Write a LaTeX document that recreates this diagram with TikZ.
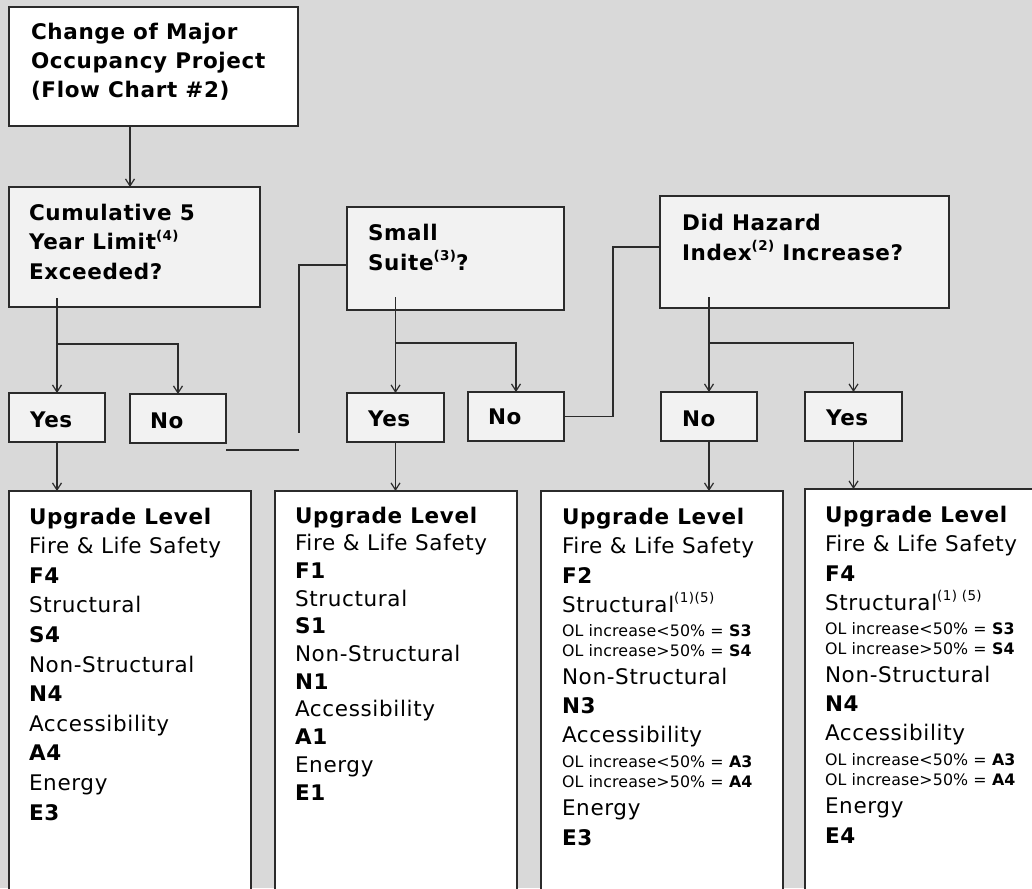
\documentclass[tikz,border=0pt]{standalone}
\usepackage{fontspec}
\setmainfont{DejaVu Sans}[LetterSpace=3]
\newfontfamily\smallfam{DejaVu Sans}[LetterSpace=1]
\usetikzlibrary{arrows.meta,calc}
\definecolor{bgc}{HTML}{D9D9D9}
\definecolor{qfill}{HTML}{F2F2F2}
\definecolor{linec}{HTML}{2B2B2B}
\newcommand\sups[1]{\raisebox{0.42em}{\fontsize{13.5}{13.5}\selectfont #1}}
\newcommand\lines[1]{\begin{tabular}[t]{@{}l@{}}#1\end{tabular}}
\newcommand\olfont{\smallfam\fontsize{15.8}{18}\selectfont}
\tikzset{
  box/.style={draw=linec, line width=1.3pt, inner sep=0pt, outer sep=0pt, anchor=north west},
  qbox/.style={box, fill=qfill},
  wbox/.style={box, fill=white},
  txt/.style={anchor=base west, inner sep=0pt, outer sep=0pt, font=\fontsize{21.5}{29.6}\selectfont},
  btxt/.style={anchor=base west, inner sep=0pt, outer sep=0pt, font=\fontsize{21.5}{#1}\selectfont\bfseries},
  conn/.style={draw=linec, line width=1.2pt},
  arr/.style={conn, -{Straight Barb[length=7pt,width=9pt]}}
}
\begin{document}
\begin{tikzpicture}[x=1pt,y=-1pt]
\path[use as bounding box] (0,0) rectangle (1032,888);
\clip (0,0) rectangle (1032,888);
\fill[bgc] (0,0) rectangle (1032,888);

% boxes
\node[wbox, minimum width=289pt, minimum height=119pt] (top) at (9,7) {};
\node[qbox, minimum width=251pt, minimum height=120pt] (cum) at (9,187) {};
\node[qbox, minimum width=217pt, minimum height=103pt] (small) at (347,207) {};
\node[qbox, minimum width=289pt, minimum height=112pt] (haz) at (660,196) {};

\node[qbox, minimum width=96pt, minimum height=49pt] (yes1) at (9,393) {};
\node[qbox, minimum width=96pt, minimum height=49pt] (no1) at (130,394) {};
\node[qbox, minimum width=97pt, minimum height=49pt] (yes2) at (347,393) {};
\node[qbox, minimum width=96pt, minimum height=49pt] (no2) at (468,392) {};
\node[qbox, minimum width=96pt, minimum height=49pt] (no3) at (661,392) {};
\node[qbox, minimum width=97pt, minimum height=49pt] (yes3) at (805,392) {};

\node[wbox, minimum width=242pt, minimum height=420pt] (bot1) at (9,491) {};
\node[wbox, minimum width=242pt, minimum height=420pt] (bot2) at (275,491) {};
\node[wbox, minimum width=242pt, minimum height=420pt] (bot3) at (541,491) {};
\node[wbox, minimum width=260pt, minimum height=420pt] (bot4) at (805,489) {};

% texts
\node[btxt=29] (toptxt) at ($(top.north west)+(22,33)$)
  {\lines{Change of Major\\Occupancy Project\\(Flow Chart \#2)}};
\node[btxt=29.5] (cumtxt) at ($(cum.north west)+(20,33)$)
  {\lines{Cumulative 5\\Year Limit\sups{(4)}\\Exceeded?}};
\node[btxt=30] (smalltxt) at ($(small.north west)+(21,33)$)
  {\lines{Small\\Suite\sups{(3)}?}};
\node[btxt=30] (haztxt) at ($(haz.north west)+(22,34)$)
  {\lines{Did Hazard\\Index\sups{(2)} Increase?}};

\node[btxt=29] (yes1t) at ($(yes1.north west)+(21,34)$) {Yes};
\node[btxt=29] (no1t) at ($(no1.north west)+(20,34)$) {No};
\node[btxt=29] (yes2t) at ($(yes2.north west)+(21,33)$) {Yes};
\node[btxt=29] (no2t) at ($(no2.north west)+(20,32)$) {No};
\node[btxt=29] (no3t) at ($(no3.north west)+(21,34)$) {No};
\node[btxt=29] (yes3t) at ($(yes3.north west)+(21,33)$) {Yes};

\node[txt] (bot1t) at ($(bot1.north west)+(20,33)$)
  {\lines{\textbf{Upgrade Level}\\Fire \& Life Safety\\\textbf{F4}\\Structural\\\textbf{S4}\\Non-Structural\\\textbf{N4}\\Accessibility\\\textbf{A4}\\Energy\\\textbf{E3}}};
\node[txt, font=\fontsize{21.5}{27.7}\selectfont] (bot2t) at ($(bot2.north west)+(20,32)$)
  {\lines{\textbf{Upgrade Level}\\Fire \& Life Safety\\\textbf{F1}\\Structural\\\textbf{S1}\\Non-Structural\\\textbf{N1}\\Accessibility\\\textbf{A1}\\Energy\\\textbf{E1}}};
\node[txt, font=\fontsize{21.5}{29}\selectfont] (bot3t) at ($(bot3.north west)+(21,33)$)
  {\lines{\textbf{Upgrade Level}\\Fire \& Life Safety\\[1pt]\textbf{F2}\\
   Structural\sups{(1)(5)}\\[-5pt]
   {\olfont OL increase<50\% = \textbf{S3}}\\[-9pt]
   {\olfont OL increase>50\% = \textbf{S4}}\\[-1pt]
   Non-Structural\\\textbf{N3}\\Accessibility\\[-4pt]
   {\olfont OL increase<50\% = \textbf{A3}}\\[-9pt]
   {\olfont OL increase>50\% = \textbf{A4}}\\[-1pt]
   Energy\\[1pt]\textbf{E3}}};
\node[txt, font=\fontsize{21.5}{29}\selectfont] (bot4t) at ($(bot4.north west)+(20,33)$)
  {\lines{\textbf{Upgrade Level}\\Fire \& Life Safety\\[1pt]\textbf{F4}\\
   Structural\sups{(1) (5)}\\[-5pt]
   {\olfont OL increase<50\% = \textbf{S3}}\\[-9pt]
   {\olfont OL increase>50\% = \textbf{S4}}\\[-1pt]
   Non-Structural\\\textbf{N4}\\Accessibility\\[-4pt]
   {\olfont OL increase<50\% = \textbf{A3}}\\[-9pt]
   {\olfont OL increase>50\% = \textbf{A4}}\\[-1pt]
   Energy\\[1pt]\textbf{E4}}};

% helper coordinates
\coordinate (a1) at (130,0);
\coordinate (s1) at (0,298);
\coordinate (j1) at (0,344);
\coordinate (s2) at (0,297);
\coordinate (j2) at (0,343);
\coordinate (k1) at (299,265);
\coordinate (k1b) at (299,433);
\coordinate (k3) at (299,450);
\coordinate (k2) at (613,247);

% connectors
\draw[arr] (top.south -| a1) -- (cum.north -| a1);

\draw[conn] (yes1.north |- s1) -- (yes1.north |- j1);
\draw[arr] (yes1.north |- j1) -- (yes1.north);
\draw[arr] (yes1.north |- j1) -| (no1.north);

\draw[conn] (yes2.north |- s2) -- (yes2.north |- j2);
\draw[arr] (yes2.north |- j2) -- (yes2.north);
\draw[arr] (yes2.north |- j2) -| (no2.north);

\draw[conn] (no3.north |- s2) -- (no3.north |- j2);
\draw[arr] (no3.north |- j2) -- (no3.north);
\draw[arr] (no3.north |- j2) -| (yes3.north);

\draw[conn] (small.west |- k1) -- (k1) -- (k1b);
\draw[conn] (no1.east |- k3) -- (k3);
\draw[conn] (no2.east) -| (k2) -- (haz.west |- k2);

\draw[arr] (yes1.south) -- (yes1.south |- bot1.north);
\draw[arr] (yes2.south) -- (yes2.south |- bot2.north);
\draw[arr] (no3.south) -- (no3.south |- bot3.north);
\draw[arr] (yes3.south) -- (yes3.south |- bot4.north);
\end{tikzpicture}
\end{document}
